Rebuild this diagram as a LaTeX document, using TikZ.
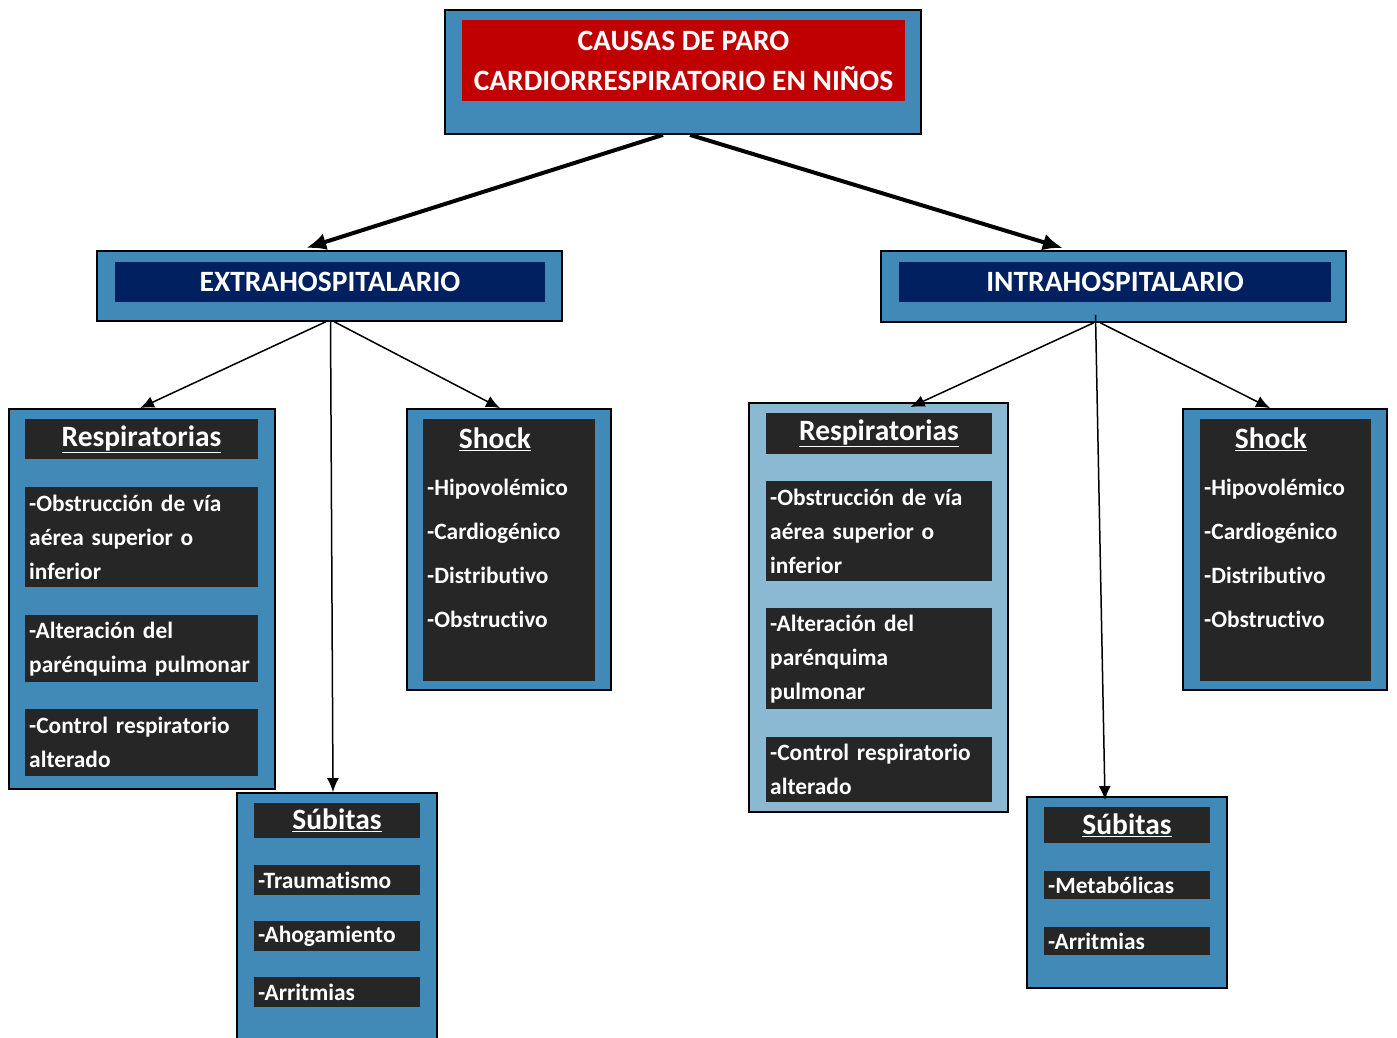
\documentclass[tikz,border=0pt]{standalone}
\usepackage{fontspec}
\setmainfont{Carlito}[Ligatures=NoCommon]
\usepackage{tikz}
\usetikzlibrary{calc,arrows.meta}

\definecolor{azul}{RGB}{65,137,182}
\definecolor{azulclaro}{RGB}{139,185,212}
\definecolor{gris}{RGB}{38,38,38}
\definecolor{rojo}{RGB}{192,0,0}
\definecolor{marino}{RGB}{0,32,96}

\newcommand\itemf{\fontsize{23.4}{34}\selectfont\bfseries}
\newcommand\titf{\fontsize{29.5}{40}\selectfont\bfseries}

\tikzset{
  marco/.style={draw=black,line width=1.8pt,fill=azul,inner sep=0pt},
  fondo/.style={fill=gris,inner sep=0pt},
  tit/.style={fondo,text=white,font=\titf},
  itm/.style={fondo,text=white,font=\itemf,align=left,anchor=north west,inner xsep=4pt,inner ysep=0pt},
  txt/.style={text=white,font=\itemf,anchor=mid west,inner sep=0pt},
  gruesa/.style={-{Latex[length=20pt,width=17pt]},line width=4pt,shorten >=7pt},
  fina/.style={-{Latex[length=14pt,width=12pt]},line width=1.5pt}
}

\begin{document}
\begin{tikzpicture}[x=1pt,y=-1pt]
\useasboundingbox (0,0) rectangle (1397,1038);
% titulo
\node[marco,minimum width=476,minimum height=124](top)at(683,72){};
\node[fill=rojo,text=white,font=\titf,align=center,minimum width=443,minimum height=81,inner sep=0pt](toptxt)at(683.5,60.5){CAUSAS DE PARO\\CARDIORRESPIRATORIO EN NIÑOS};
% nivel 2
\node[marco,minimum width=465,minimum height=70](extra)at(329.5,286){};
\node[fill=marino,text=white,font=\titf,minimum width=430,minimum height=40,inner sep=0pt](extratxt)at(330,282){EXTRAHOSPITALARIO};
\node[marco,minimum width=465,minimum height=71](intra)at(1113.5,286.5){};
\node[fill=marino,text=white,font=\titf,minimum width=432,minimum height=40,inner sep=0pt](intratxt)at(1115,282){INTRAHOSPITALARIO};
% extrahospitalario
\node[marco,minimum width=266,minimum height=380](resp1)at(142,599){};
\node[tit,minimum width=233,minimum height=40](resp1t)at(141.5,439){\underline{Respiratorias}};
\node[itm,text width=225,minimum height=100](resp1a)at(25,487){-Obstrucción de vía\\aérea superior o\\inferior};
\node[itm,text width=225,minimum height=67](resp1b)at(25,615){-Alteración del\\parénquima pulmonar};
\node[itm,text width=225,minimum height=67](resp1c)at(25,709){-Control respiratorio\\alterado};

\node[marco,minimum width=204,minimum height=281](shk1)at(509,549.5){};
\node[fondo,minimum width=172,minimum height=262](shk1in)at(509,550){};
\node[text=white,font=\titf](shk1t)at(495,439){\underline{Shock}};
\foreach \t [count=\i] in {-Hipovolémico,-Cardiogénico,-Distributivo,-Obstructivo}
  \node[txt](shk1-\i)at(427,449+44*\i){\t};

\node[marco,minimum width=200,minimum height=260](sub1)at(337,923){};
\node[tit,minimum width=166,minimum height=35](sub1t)at(337,820.5){\underline{Súbitas}};
\foreach \t [count=\i] in {-Traumatismo,-Ahogamiento,-Arritmias}
  \node[itm,anchor=west,text width=158,minimum height=30](sub1-\i)at(254,824+56*\i){\t};
% intrahospitalario
\node[marco,fill=azulclaro,minimum width=259,minimum height=409](resp2)at(878.5,607.5){};
\node[tit,minimum width=226,minimum height=41](resp2t)at(879,433.5){\underline{Respiratorias}};
\node[itm,text width=218,minimum height=100](resp2a)at(766,481){-Obstrucción de vía\\aérea superior o\\inferior};
\node[itm,text width=218,minimum height=101](resp2b)at(766,608){-Alteración del\\parénquima\\pulmonar};
\node[itm,text width=218,minimum height=65](resp2c)at(766,737){-Control respiratorio\\alterado};

\node[marco,minimum width=204,minimum height=281](shk2)at(1285,549.5){};
\node[fondo,minimum width=171,minimum height=262](shk2in)at(1285.5,550){};
\node[text=white,font=\titf](shk2t)at(1271,439){\underline{Shock}};
\foreach \t [count=\i] in {-Hipovolémico,-Cardiogénico,-Distributivo,-Obstructivo}
  \node[txt](shk2-\i)at(1204,449+44*\i){\t};

\node[marco,minimum width=200,minimum height=191](sub2)at(1127,892.5){};
\node[tit,minimum width=166,minimum height=36](sub2t)at(1127,825){\underline{Súbitas}};
\foreach \t [count=\i] in {-Metabólicas,-Arritmias}
  \node[itm,anchor=west,text width=158,minimum height=28](sub2-\i)at(1044,829+56*\i){\t};
% flechas
\draw[gruesa]([xshift=-20]top.south)--([xshift=-30]extra.north);
\draw[gruesa]([xshift=7]top.south)--([xshift=-44]intra.north);
\draw[fina]([xshift=-4]extra.south)--([xshift=-2]resp1.north);
\draw[fina]([xshift=1]extra.south)--([xshift=-4]sub1.north);
\draw[fina]([xshift=5]extra.south)--([xshift=-9]shk1.north);
\draw[fina]([xshift=-20]intra.south)--([xshift=32,yshift=-5]resp2.north);
\draw[fina]([xshift=-18,yshift=8]intra.south)--([xshift=-22,yshift=-4]sub2.north);
\draw[fina]([xshift=-13]intra.south)--([xshift=-15]shk2.north);
\end{tikzpicture}
\end{document}
